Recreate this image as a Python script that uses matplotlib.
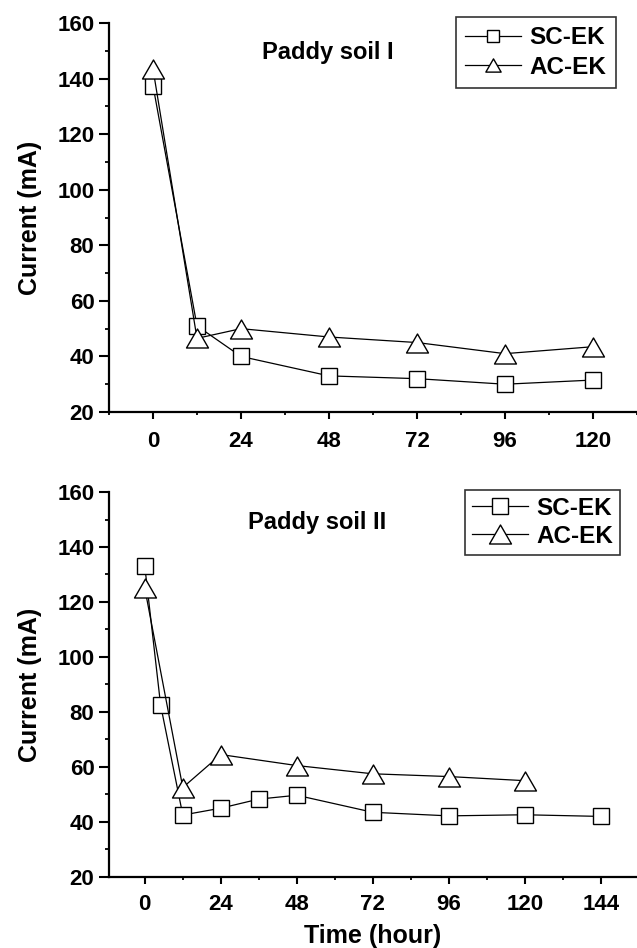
import matplotlib
matplotlib.use("Agg")
import matplotlib.pyplot as plt
from matplotlib.ticker import MultipleLocator
from matplotlib.path import Path

# ---- data ----
t1_sc = [0, 12, 24, 48, 72, 96, 120]
i1_sc = [137.5, 51, 40, 33, 32, 30, 31.5]
t1_ac = [0, 12, 24, 48, 72, 96, 120]
i1_ac = [143.5, 46.5, 50, 47, 45, 41, 43.5]

t2_sc = [0, 5, 12, 24, 36, 48, 72, 96, 120, 144]
i2_sc = [133, 82.5, 42.5, 45, 48.3, 49.7, 43.5, 42.2, 42.6, 42]
t2_ac = [0, 12, 24, 48, 72, 96, 120]
i2_ac = [125, 52.5, 64.5, 60.5, 57.5, 56.5, 55]

titles = ["Paddy soil I", "Paddy soil II"]
series_names = ["SC-EK", "AC-EK"]
xticks1 = [0, 24, 48, 72, 96, 120]
xticks2 = [0, 24, 48, 72, 96, 120, 144]
yticks = [20, 40, 60, 80, 100, 120, 140, 160]

plt.rcParams["font.family"] = ["Liberation Sans", "DejaVu Sans"]
plt.rcParams["font.weight"] = "bold"

# equilateral-looking open triangle
tri = Path([(-1.0, -0.866), (1.0, -0.866), (0.0, 0.866), (-1.0, -0.866)],
           [Path.MOVETO, Path.LINETO, Path.LINETO, Path.CLOSEPOLY])

fig = plt.figure(figsize=(6.37, 9.48), dpi=100)
ax1 = fig.add_axes([0.1711, 0.5654, 0.8289, 0.4103])
ax2 = fig.add_axes([0.1711, 0.0750, 0.8289, 0.4060])

def style(ax, xlim, xticks, xpad):
    ax.set_xlim(*xlim)
    ax.set_ylim(20, 160)
    ax.set_xticks(xticks)
    ax.set_yticks(yticks)
    ax.xaxis.set_minor_locator(MultipleLocator(12))
    ax.yaxis.set_minor_locator(MultipleLocator(10))
    for s in ["top", "right"]:
        ax.spines[s].set_visible(False)
    for s in ["left", "bottom"]:
        ax.spines[s].set_linewidth(1.6)
    ax.tick_params(which="major", direction="out", width=1.5, labelsize=16)
    ax.tick_params(axis="y", which="major", length=7, pad=3.5)
    ax.tick_params(axis="x", which="major", length=5, pad=xpad)
    ax.tick_params(axis="y", which="minor", direction="out", length=3, width=1.3)
    ax.tick_params(axis="x", which="minor", direction="out", length=2.5, width=1.3)
    for lab in ax.get_xticklabels() + ax.get_yticklabels():
        lab.set_fontweight("bold")
    ax.set_ylabel("Current (mA)", fontsize=18, fontweight="bold", labelpad=11)

def draw(ax, tsc, isc, tac, iac, leg_ms_s, leg_ms_t, anchor, bpad, lspace):
    ax.plot(tsc, isc, color="black", lw=0.9, marker="s", ms=11.5,
            mfc="white", mec="black", mew=1.0, label=series_names[0], zorder=3)
    ax.plot(tac, iac, color="black", lw=0.9, marker=tri, ms=15.8,
            mfc="white", mec="black", mew=1.0, label=series_names[1], zorder=3)
    leg = ax.legend(loc="upper right", bbox_to_anchor=anchor, frameon=True,
                    fancybox=False, edgecolor="black",
                    prop={"size": 17.5, "weight": "bold"},
                    handlelength=2.3, borderpad=bpad, labelspacing=lspace,
                    handletextpad=0.35, borderaxespad=0.0)
    leg.get_frame().set_linewidth(1.2)
    for h, m in zip(leg.legend_handles, [leg_ms_s, leg_ms_t]):
        h.set_markersize(m)
    return leg

style(ax1, (-12.0, 132.0), xticks1, 8.5)
draw(ax1, t1_sc, i1_sc, t1_ac, i1_ac, 8, 11, (0.960, 1.015), 0.38, 0.27)
ax1.text(0.415, 0.924, titles[0], transform=ax1.transAxes, ha="center", va="center",
         fontsize=17, fontweight="bold")

style(ax2, (-11.3, 155.4), xticks2, 7.5)
draw(ax2, t2_sc, i2_sc, t2_ac, i2_ac, 11.5, 15.8, (0.968, 1.005), 0.28, 0.2)
ax2.text(0.394, 0.920, titles[1], transform=ax2.transAxes, ha="center", va="center",
         fontsize=17, fontweight="bold")
ax2.set_xlabel("Time (hour)", fontsize=18, fontweight="bold", labelpad=6.5)

fig.savefig("out.png", dpi=100)
